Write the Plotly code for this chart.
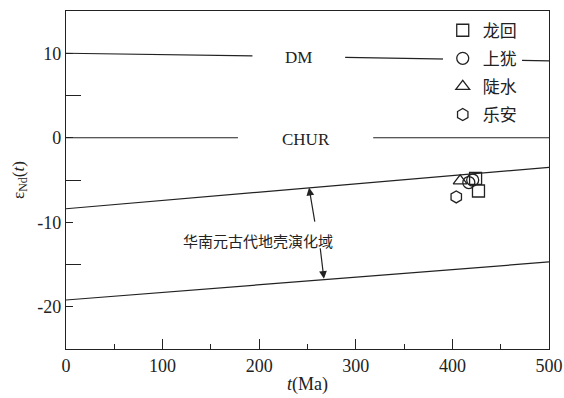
import plotly.graph_objects as go

# Reference evolution lines (t in Ma, epsilon Nd)
dm_t = [0, 193, None, 289, 500]
dm_eps = [10.0, 9.7, None, 9.5, 9.1]
chur_t = [0, 178, None, 318, 500]
chur_eps = [0, 0, None, 0, 0]
upper_t = [0, 500]
upper_eps = [-8.4, -3.5]
lower_t = [0, 500]
lower_eps = [-19.2, -14.7]

# Sample data by locality
names = ["龙回", "上犹", "陡水", "乐安"]
symbols = ["square-open", "circle-open", "triangle-up-open", "hexagon-open"]
sample_t = [[424, 427], [417, 421], [408], [404]]
sample_eps = [[-4.8, -6.3], [-5.3, -5.0], [-5.1], [-7.0]]

serif = "Liberation Serif, Times New Roman, serif"
cjk = "Noto Sans CJK SC, sans-serif"
ink = "#222222"

fig = go.Figure()

for tt, ee in [(dm_t, dm_eps), (chur_t, chur_eps), (upper_t, upper_eps), (lower_t, lower_eps)]:
    fig.add_trace(go.Scatter(x=tt, y=ee, mode="lines", line=dict(color=ink, width=1.2),
                             showlegend=False, hoverinfo="skip", connectgaps=False))

for i, (nm, sym) in enumerate(zip(names, symbols)):
    fig.add_trace(go.Scatter(
        x=sample_t[i], y=sample_eps[i], mode="markers", name=nm,
        legendgroup=nm,
        marker=dict(symbol=sym, size=12, color=ink, line=dict(width=1.3, color=ink)),
    ))

# Curve labels
fig.add_annotation(x=241, y=9.5, text="DM", showarrow=False,
                   font=dict(family=serif, size=17, color=ink))
fig.add_annotation(x=248, y=-0.2, text="CHUR", showarrow=False,
                   font=dict(family=serif, size=17, color=ink))
fig.add_annotation(x=199, y=-12.2, text="华南元古代地壳演化域", showarrow=False,
                   font=dict(family=cjk, size=15, color=ink))

# Arrows from the field label to the bounding lines
fig.add_annotation(x=251.6, y=-5.9, ax=257.8, ay=-10.1, xref="x", yref="y",
                   axref="x", ayref="y", text="", showarrow=True,
                   arrowhead=2, arrowsize=1.3, arrowwidth=1.2, arrowcolor=ink)
fig.add_annotation(x=267, y=-16.7, ax=263, ay=-12.9, xref="x", yref="y",
                   axref="x", ayref="y", text="", showarrow=True,
                   arrowhead=2, arrowsize=1.3, arrowwidth=1.2, arrowcolor=ink)

axis_common = dict(showline=True, linecolor=ink, linewidth=1.3, mirror=True,
                   ticks="inside", tickcolor=ink, showgrid=False, zeroline=False,
                   automargin=False,
                   tickfont=dict(family=serif, size=18, color=ink))

fig.update_xaxes(range=[0, 500], tickvals=[0, 100, 200, 300, 400, 500], ticklen=10,
                 minor=dict(tickvals=[50, 150, 250, 350, 450], ticklen=5, ticks="inside",
                            tickcolor=ink),
                 title=dict(text="<i>t</i>(Ma)", font=dict(family=serif, size=18, color=ink),
                            standoff=2),
                 **axis_common)
fig.update_yaxes(range=[-25, 15], tickvals=[-20, -10, 0, 10], ticklen=7,
                 ticktext=["-20", "-10", "0", "10"],
                 minor=dict(tickvals=[-15, -5, 5], ticklen=15, ticks="inside", tickcolor=ink),
                 title=dict(text="ε<sub>Nd</sub>(<i>t</i>)", font=dict(family=serif, size=17, color=ink),
                            standoff=8),
                 **axis_common)

fig.update_layout(
    width=564, height=398,
    margin=dict(l=66, r=15, t=11, b=49),
    plot_bgcolor="white", paper_bgcolor="white",
    showlegend=True,
    legend=dict(x=0.78, y=0.995, xanchor="left", yanchor="top", bgcolor="white",
                font=dict(family=cjk, size=17, color=ink), tracegroupgap=3,
                itemwidth=30),
)

fig.write_html("out.html")
